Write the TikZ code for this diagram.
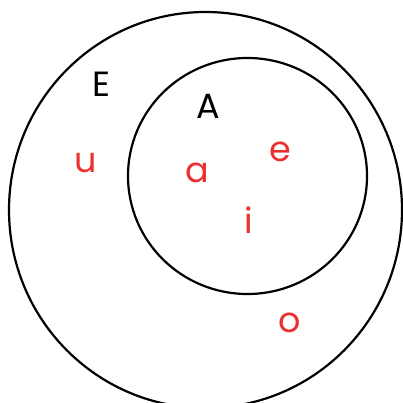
\documentclass[tikz,border=0pt]{standalone}
\usepackage{fontspec}
\setmainfont{Poppins}
\definecolor{vred}{RGB}{236,48,48}
\begin{document}
\begin{tikzpicture}[x=1pt,y=-1pt,
  ring/.style={draw=black,line width=2.2pt},
  setlabel/.style={font=\fontsize{35}{35}\selectfont,text=black,inner sep=0pt},
  elem/.style={font=\fontsize{35}{35}\selectfont,text=vred,inner sep=0pt}]
\useasboundingbox (0,0) rectangle (403,403);
\clip (0,0) rectangle (403,403);
\draw[ring] (205.5,210) ellipse [x radius=196.5, y radius=198];
\draw[ring] (247.5,176) ellipse [x radius=119.5, y radius=118];
\node[setlabel] (E) at (101,84) {E};
\node[setlabel] (A) at (208,106) {A};
\node[elem] (u) at (86,163) {u};
\node[elem] (a) at (197,173) {a};
\node[elem] (e) at (280,152) {e};
\node[elem] (i) at (249,220) {i};
\node[elem] (o) at (290,323) {o};
\end{tikzpicture}
\end{document}
